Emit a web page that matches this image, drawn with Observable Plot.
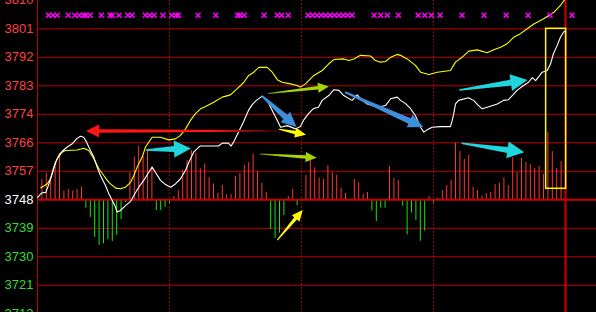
<!DOCTYPE html>
<html><head><meta charset="utf-8">
<script src="https://cdn.jsdelivr.net/npm/d3@7"></script>
<script src="https://cdn.jsdelivr.net/npm/@observablehq/plot@0.6"></script>
<style>html,body{margin:0;padding:0;background:#000;overflow:hidden}</style>
</head><body><div id="chart"></div>
<script>
// ---- data (minute of session 0..240, price) ----
const basePrice = 3748.3;           // previous close (baseline)
const gridStep = 8.8;               // price step between grid lines
const yLabels = ["3810","3801","3792","3783","3774","3766","3757","3748","3739","3730","3721","3712"];
const sessionBreaks = [60, 120, 180];
const sessionEnd = 240;

// white line: weighted index
const whiteLine = [[0,3749.0],[1.8,3750.4],[3.8,3750.6],[5.3,3753.4],[6.7,3756.3],[8.2,3759.9],[9.7,3762.0],[11.2,3763.3],[13.5,3764.6],[15.8,3765.6],[17.7,3767.1],[19.5,3767.9],[21,3767.6],[22.3,3766.1],[24.1,3763.5],[25.6,3761.5],[27.1,3758.4],[28.6,3755.8],[30.9,3752.7],[32.4,3750.2],[34,3748.1],[35.5,3746.0],[36.2,3744.5],[37.7,3745.0],[40,3746.5],[42.3,3747.8],[43.8,3749.6],[46,3752.2],[48.3,3754.3],[50.6,3756.8],[52.1,3758.4],[53.6,3756.8],[55.9,3754.3],[58.2,3753.0],[60.5,3752.2],[62.7,3753.2],[65,3754.8],[67.3,3757.4],[68.8,3759.9],[71,3763.0],[73.3,3764.6],[74.1,3764.9],[82.3,3764.9],[84,3765.8],[86.8,3765.8],[88,3764.9],[89.1,3766.1],[91.4,3769.2],[93.6,3772.3],[95.9,3775.9],[97.6,3777.7],[99.5,3779.0],[102.1,3780.3],[104.4,3779.0],[106.7,3775.9],[109,3772.8],[110.5,3770.7],[113.5,3771.2],[117.3,3770.2],[119.5,3770.9],[120.9,3772.8],[123.2,3774.9],[125.5,3776.5],[127.7,3776.9],[129.4,3779.0],[132.4,3780.5],[134.7,3782.3],[137,3782.1],[139.2,3780.5],[143,3779.0],[145.3,3780.7],[147.6,3779.0],[149.9,3777.9],[154.4,3776.9],[158.2,3777.4],[160.5,3779.5],[163.5,3780.0],[165,3779.0],[167.3,3778.0],[169.5,3776.5],[171.8,3774.3],[174.1,3770.7],[175.6,3769.2],[177.1,3769.9],[179.4,3770.7],[183.2,3770.9],[187.7,3770.9],[188.5,3772.8],[189.2,3774.9],[190,3777.9],[191.4,3779.0],[195.9,3779.8],[198.2,3779.0],[200.5,3777.4],[202.1,3776.4],[204.4,3776.9],[209,3777.9],[211.8,3779.0],[214.1,3779.2],[215.8,3780.5],[218,3782.1],[220.9,3783.6],[223.2,3784.6],[224.9,3786.0],[226.4,3785.1],[227.7,3786.2],[229.4,3787.7],[231.7,3788.2],[233.2,3790.3],[234.5,3793.4],[236.2,3795.9],[237.7,3798.5],[239.2,3800.1],[240,3800.4]];

// yellow line: unweighted index
const yellowLine = [[1.5,3752.0],[4.4,3753.2],[5.9,3754.8],[7.4,3758.4],[9,3761.0],[11.2,3763.0],[12.7,3763.5],[18,3763.7],[21,3764.2],[23.3,3763.5],[25.6,3761.0],[27.9,3757.9],[30.1,3755.8],[32.4,3753.7],[35.5,3751.9],[37.7,3751.7],[40,3752.2],[42.3,3753.7],[43.8,3755.8],[45.3,3758.4],[47.6,3761.5],[49.1,3764.6],[52.1,3767.6],[55.9,3767.6],[59.7,3766.8],[62.7,3767.1],[65,3768.2],[67.3,3770.2],[69.5,3772.8],[71.8,3774.9],[74.1,3776.4],[76.4,3777.1],[80.1,3778.4],[84,3780.0],[87.7,3780.7],[90.8,3782.6],[93.8,3784.6],[96,3786.7],[98.3,3787.7],[100.6,3789.2],[104.4,3789.2],[106.7,3787.7],[109,3785.4],[111.2,3784.6],[115,3784.1],[118,3783.6],[119.5,3783.1],[121.8,3784.1],[125.6,3786.7],[129.4,3788.2],[132.4,3790.3],[134.7,3791.6],[139.2,3791.8],[141.5,3791.3],[143.8,3791.8],[146.8,3792.9],[151.4,3792.7],[153.6,3791.3],[155.9,3790.8],[158.2,3791.0],[160.5,3792.3],[163.5,3793.2],[165,3792.9],[168,3791.8],[171.8,3789.8],[174.1,3787.7],[177.9,3787.0],[181.7,3787.7],[187.7,3788.2],[190,3790.8],[193,3792.3],[196,3794.2],[199.9,3794.6],[204.4,3793.7],[207.4,3794.6],[210.5,3795.4],[213.5,3796.5],[216.5,3798.5],[219.5,3799.6],[222.6,3801.1],[225.6,3802.6],[230.1,3804.2],[234.7,3806.2],[237.7,3808.3],[240,3810.5]];

// red/green strength bars (offset from baseline, in index points)
const strengthBars = [[2,6.3],[4,8.2],[6,6.0],[8,11.3],[10,14.2],[12,2.7],[14,3.2],[16,2.7],[18,3.2],[20,3.9],[22,-2.6],[24,-5.4],[26,-11.6],[28,-14.1],[30,-13.6],[32,-12.3],[34,-12.9],[36,-11.0],[38,-6.1],[40,-0.8],[42,8.3],[44,13.2],[46,16.5],[48,13.4],[50,15.2],[52,10.1],[54,-3.3],[56,-3.3],[58,-2.3],[60,-1.2],[62,1.0],[64,2.9],[66,9.1],[68,12.1],[70,15.2],[72,14.4],[74,9.6],[76,11.1],[78,6.8],[80,4.9],[82,2.0],[84,4.4],[86,1.6],[88,1.6],[90,7.2],[92,8.2],[94,10.6],[96,11.5],[98,14.2],[100,8.7],[102,5.1],[104,2.3],[106,-9.2],[108,-11.9],[110,-10.3],[112,-4.9],[114,1.0],[116,3.2],[118,-1.8],[122,7.5],[124,12.4],[126,9.9],[128,6.7],[130,6.3],[132,10.6],[134,8.4],[136,7.6],[138,3.6],[140,2.0],[144,6.3],[146,5.3],[148,1.6],[150,2.3],[152,-3.5],[154,-6.7],[156,-2.6],[158,-2.6],[160,10.3],[162,6.5],[164,6.0],[166,-2.0],[168,-10.8],[170,-4.1],[172,-6.4],[174,-12.8],[176,-9.7],[178,1.0],[180,-1.0],[182,0.5],[184,2.9],[186,4.4],[188,6.0],[190,17.5],[192,14.9],[194,12.5],[196,13.7],[198,3.9],[200,2.9],[202,1.1],[204,1.9],[206,2.3],[208,4.7],[210,5.1],[212,6.7],[214,4.4],[216,13.0],[218,8.4],[220,12.8],[222,11.6],[224,10.9],[226,9.7],[228,10.3],[230,7.9],[232,20.9],[234,14.9],[236,9.7],[238,11.8]];

// magenta signal markers (minutes)
const signalMinutes = [5,7,9,14,17,19,21,22,24,29,33,34,37,41,43,49,51,53,57,61,63,64,73,81,91,92,94,103,109,111,114,123,125,127,129,131,133,135,137,139,141,143,153,156,159,164,173,176,179,183,193,203,213,223,233,243];
const signalLevel = 3805.3;

// annotations
const highlightBox = [{x1: 231.2, x2: 240.3, y1: 3751.7, y2: 3801.1}];
const arrows = [
  {kind: "red",    x1: 110.5, y1: 3769.4,  x2: 22.3,  y2: 3769.4},
  {kind: "yellow", x1: 110,   y1: 3769.9,  x2: 122.3, y2: 3768.25},
  {kind: "yellow", x1: 109.2, y1: 3735.7,  x2: 120.8, y2: 3745.0},
  {kind: "green",  x1: 105.1, y1: 3781.0,  x2: 132.7, y2: 3783.1},
  {kind: "green",  x1: 101.4, y1: 3762.3,  x2: 127.1, y2: 3761.15},
  {kind: "blue",   x1: 102.3, y1: 3780.2,  x2: 118,   y2: 3770.6},
  {kind: "blue",   x1: 140,   y1: 3781.4,  x2: 175.6, y2: 3770.6},
  {kind: "cyan",   x1: 49.5,  y1: 3763.5,  x2: 70,    y2: 3764.0},
  {kind: "cyan",   x1: 192,   y1: 3782.05, x2: 223,   y2: 3785.1},
  {kind: "cyan",   x1: 193,   y1: 3765.6,  x2: 221.5, y2: 3762.8}
];

// ---- styles ----
const arrowStyle = {
  red:    {color: "#ff1414", fadeTo: "#3a0000", tail: 1.5, shaft: 3.5, head: 13, half: 6.5},
  yellow: {color: "#ffff00", fadeTo: null, tail: 1, shaft: 3.5, head: 11, half: 5},
  green:  {color: "#a6d40c", fadeTo: "#6f8f08", tail: 1, shaft: 3.5, head: 11, half: 5},
  blue:   {color: "#3d8fdc", fadeTo: null, tail: 2, shaft: 6, head: 15, half: 7},
  cyan:   {color: "#1ed6dc", fadeTo: null, tail: 1.5, shaft: 6, head: 17, half: 8.5}
};

const gridValues = yLabels.map((_, i) => basePrice + (7 - i) * gridStep);
const labelRows = yLabels.map((t, i) => ({t, v: gridValues[i], k: 7 - i}));

function arrowMark(list) {
  return (index, scales) => {
    const sx = scales.x, sy = scales.y;
    const g = d3.create("svg:g");
    const defs = g.append("defs");
    list.forEach((a, j) => {
      const s = arrowStyle[a.kind];
      const x1 = sx(a.x1), y1 = sy(a.y1), x2 = sx(a.x2), y2 = sy(a.y2);
      const dx = x2 - x1, dy = y2 - y1, L = Math.hypot(dx, dy);
      const ux = dx / L, uy = dy / L, nx = -uy, ny = ux;
      const hb = L - s.head;
      const bx = x1 + ux * hb, by = y1 + uy * hb;
      const pts = [
        [x1 + nx * s.tail / 2, y1 + ny * s.tail / 2],
        [bx + nx * s.shaft / 2, by + ny * s.shaft / 2],
        [bx + nx * s.half, by + ny * s.half],
        [x2, y2],
        [bx - nx * s.half, by - ny * s.half],
        [bx - nx * s.shaft / 2, by - ny * s.shaft / 2],
        [x1 - nx * s.tail / 2, y1 - ny * s.tail / 2]
      ];
      let fill = s.color;
      if (s.fadeTo) {
        const id = "afade" + j;
        const gr = defs.append("linearGradient").attr("id", id)
          .attr("gradientUnits", "userSpaceOnUse")
          .attr("x1", x1).attr("y1", y1).attr("x2", x2).attr("y2", y2);
        gr.append("stop").attr("offset", 0).attr("stop-color", s.fadeTo);
        gr.append("stop").attr("offset", 0.35).attr("stop-color", s.color);
        gr.append("stop").attr("offset", 1).attr("stop-color", s.color);
        fill = `url(#${id})`;
      }
      g.append("polygon").attr("points", pts.map(p => p.join(",")).join(" ")).attr("fill", fill);
    });
    return g.node();
  };
}

const font = "Liberation Sans, Arial, sans-serif";

const chart = Plot.plot({
  width: 596,
  height: 312,
  marginLeft: 37,
  marginRight: 0,
  marginTop: 0,
  marginBottom: 0,
  style: {background: "#000", overflow: "hidden"},
  x: {domain: [0, 559 / 2.2], axis: null},
  y: {domain: [basePrice - 112.7 * gridStep / 28.5, basePrice + 199.3 * gridStep / 28.5], axis: null},
  marks: [
    Plot.ruleY(labelRows.filter(d => d.k !== 0 && d.k > -4 && d.k < 7), {y: "v", stroke: "#bb0000", strokeWidth: 1}),
    Plot.ruleX(sessionBreaks, {stroke: "#c00000", strokeWidth: 1, strokeDasharray: "1.5,2"}),
    Plot.ruleX([0], {stroke: "#c00000", strokeWidth: 1}),
    Plot.ruleX(strengthBars.filter(d => d[1] > 0), {x: d => d[0], y1: basePrice, y2: d => basePrice + d[1], stroke: "#ff3434", strokeWidth: 1}),
    Plot.ruleX(strengthBars.filter(d => d[1] < 0), {x: d => d[0], y1: basePrice, y2: d => basePrice + d[1], stroke: "#10e810", strokeWidth: 1}),
    Plot.ruleY([basePrice], {stroke: "#cc0000", strokeWidth: 2}),
    Plot.ruleX([sessionEnd], {stroke: "#d00000", strokeWidth: 2}),
    Plot.line(yellowLine, {x: d => d[0], y: d => d[1], stroke: "#ffff00", strokeWidth: 1.1}),
    Plot.line(whiteLine, {x: d => d[0], y: d => d[1], stroke: "#ffffff", strokeWidth: 1.1}),
    Plot.dot(signalMinutes, {x: d => d, y: signalLevel, symbol: "times", r: 2.4, stroke: "#ff00ff", strokeWidth: 1.5}),
    Plot.rect(highlightBox, {x1: "x1", x2: "x2", y1: "y1", y2: "y2", fill: "none", stroke: "#ffff00", strokeWidth: 1.5}),
    arrowMark(arrows),
    Plot.text(labelRows.filter(d => d.k > 0), {y: "v", text: "t", frameAnchor: "left", dx: -4, textAnchor: "end", fill: "#ff4040", fontSize: 13, fontFamily: font}),
    Plot.text(labelRows.filter(d => d.k === 0), {y: "v", text: "t", frameAnchor: "left", dx: -4, textAnchor: "end", fill: "#ffffff", fontSize: 13, fontFamily: font}),
    Plot.text(labelRows.filter(d => d.k < 0), {y: "v", text: "t", frameAnchor: "left", dx: -4, textAnchor: "end", fill: "#33dd33", fontSize: 13, fontFamily: font})
  ]
});
document.getElementById("chart").appendChild(chart);
</script></body></html>
